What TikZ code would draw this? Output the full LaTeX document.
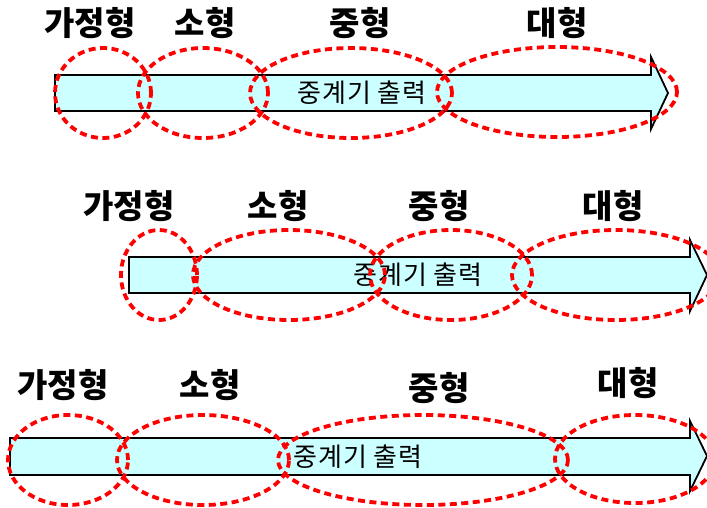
\documentclass[tikz,border=0pt]{standalone}
\usepackage{fontspec}
\newfontfamily\kr{Noto Sans CJK KR}
\newfontfamily\krw{Noto Sans CJK KR}[LetterSpace=4]
\usetikzlibrary{shapes.geometric}
\definecolor{shaftfill}{HTML}{CCFFFF}
\tikzset{
  arrowbody/.style={draw=black, line width=1.8pt, fill=shaftfill, line join=miter},
  zone/.style={draw=red, line width=3.8pt, dash pattern=on 7pt off 4.5pt, ellipse, inner sep=0pt, fill=none},
  head/.style={font=\kr\bfseries\fontsize{33}{35}\selectfont, inner sep=0pt},
  inner/.style={font=\krw\fontsize{26}{28}\selectfont, inner sep=0pt},
}
\begin{document}
\begin{tikzpicture}[x=1pt,y=-1pt]
\useasboundingbox (0,0) rectangle (707,507);
% ---------- row 1 ----------
\draw[arrowbody] (55,75) -- (651,75) -- (651,57) -- (668,93) -- (651,129) -- (651,111) -- (55,111) -- cycle;
\node[inner] (t1) at (362,93) {중계기 출력};
\node[zone, minimum width=96pt, minimum height=90pt] (a1) at (103,93) {};
\node[zone, minimum width=130pt, minimum height=90pt] (b1) at (203,93) {};
\node[zone, minimum width=202pt, minimum height=90pt] (c1) at (351,93) {};
\node[zone, minimum width=240pt, minimum height=90pt] (d1) at (557,92) {};
\node[head] (la1) at (90,23) {가정형};
\node[head] (lb1) at (205,23) {소형};
\node[head] (lc1) at (360,23) {중형};
\node[head] (ld1) at (557,23) {대형};
% ---------- row 2 ----------
\draw[arrowbody] (129,257) -- (690,257) -- (690,240) -- (707,275) -- (690,311) -- (690,293) -- (129,293) -- cycle;
\node[inner] (t2) at (418,275) {중계기 출력};
\node[zone, minimum width=76pt, minimum height=90pt] (a2) at (159,275) {};
\node[zone, minimum width=192pt, minimum height=90pt] (b2) at (289,275) {};
\node[zone, minimum width=162pt, minimum height=90pt] (c2) at (451,275) {};
\node[zone, minimum width=208pt, minimum height=90pt] (d2) at (616,275) {};
\node[head] (la2) at (129,206) {가정형};
\node[head] (lb2) at (278,206) {소형};
\node[head] (lc2) at (439,206) {중형};
\node[head] (ld2) at (613,206) {대형};
% ---------- row 3 ----------
\draw[arrowbody] (10,438) -- (690,438) -- (690,421) -- (707,456) -- (690,491) -- (690,475) -- (10,475) -- cycle;
\node[inner] (t3) at (358,457) {중계기 출력};
\node[zone, minimum width=120pt, minimum height=90pt] (a3) at (68,460) {};
\node[zone, minimum width=172pt, minimum height=90pt] (b3) at (203,460) {};
\node[zone, minimum width=290pt, minimum height=90pt] (c3) at (423,460) {};
\node[zone, minimum width=160pt, minimum height=88pt] (d3) at (635,459) {};
\node[head] (la3) at (63,385) {가정형};
\node[head] (lb3) at (210,385) {소형};
\node[head] (lc3) at (439,388) {중형};
\node[head] (ld3) at (628,383) {대형};
\end{tikzpicture}
\end{document}
